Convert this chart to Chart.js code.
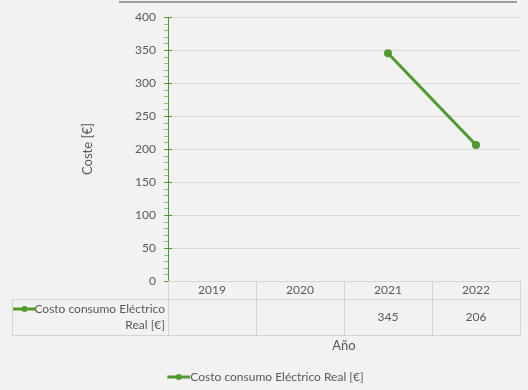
<!DOCTYPE html>
<html>
<head>
<meta charset="utf-8">
<script src="https://cdn.jsdelivr.net/npm/chart.js@4.4.1/dist/chart.umd.min.js"></script>
<style>
  html, body { margin: 0; padding: 0; background: #f2f2f2; }
  #wrap { width: 528px; height: 390px; position: relative; }
</style>
</head>
<body>
<div id="wrap"><canvas id="costChart"></canvas></div>
<script>
// datos
const years = ['2019', '2020', '2021', '2022'];
const costoReal = [null, null, 345, 206];
const seriesName = 'Costo consumo Eléctrico Real [€]';
const tableLabelLines = ['Costo consumo Eléctrico', 'Real [€]'];

const GREEN = '#4e9a2b';
const TEXT = '#595959';
const GRID = '#d9d9d9';
const FONT = 'Lato';
const FS = 12;

// muestra de la serie (línea con punto); margen transparente a la izquierda
function makeKey(margin) {
  const c = document.createElement('canvas');
  c.width = 23 + margin; c.height = 8;
  const g = c.getContext('2d');
  g.strokeStyle = GREEN; g.lineWidth = 3;
  g.beginPath(); g.moveTo(margin, 4); g.lineTo(margin + 23, 4); g.stroke();
  g.fillStyle = GREEN;
  g.beginPath(); g.arc(margin + 11.5, 4, 3, 0, Math.PI * 2); g.fill();
  return c;
}
const keyImg = makeKey(0);
const legendKeyImg = makeKey(17);

// ejes secundarios, tabla de datos y línea superior
const extras = {
  id: 'extras',
  afterDraw(chart) {
    const ctx = chart.ctx;
    const y = chart.scales.y;
    const x = chart.scales.x;
    const area = chart.chartArea;
    ctx.save();

    // línea superior
    ctx.strokeStyle = '#7f7f7f';
    ctx.lineWidth = 1.5;
    ctx.beginPath(); ctx.moveTo(119, 2); ctx.lineTo(517, 2); ctx.stroke();

    // marcas del eje Y
    for (let v = 0; v <= 400; v += 10) {
      const py = Math.round(y.getPixelForValue(v)) + 0.5;
      ctx.beginPath();
      if (v % 50 === 0) {
        ctx.strokeStyle = GREEN; ctx.lineWidth = 1;
        ctx.moveTo(area.left - 4, py); ctx.lineTo(area.left + 4, py);
      } else {
        ctx.strokeStyle = '#8fc26f'; ctx.lineWidth = 1;
        ctx.moveTo(area.left - 4, py); ctx.lineTo(area.left, py);
      }
      ctx.stroke();
    }

    // tabla de datos
    const colW = x.width / years.length;
    const top = area.bottom;
    const rowH1 = 18, rowH2 = 36;
    const labelLeft = 12;
    ctx.strokeStyle = '#d4d4d4';
    ctx.lineWidth = 1;
    ctx.beginPath();
    ctx.moveTo(area.left, top + 0.5); ctx.lineTo(area.right, top + 0.5);
    ctx.moveTo(labelLeft, top + rowH1 + 0.5); ctx.lineTo(area.right, top + rowH1 + 0.5);
    ctx.moveTo(labelLeft, top + rowH1 + rowH2 + 0.5); ctx.lineTo(area.right, top + rowH1 + rowH2 + 0.5);
    ctx.moveTo(labelLeft + 0.5, top + rowH1); ctx.lineTo(labelLeft + 0.5, top + rowH1 + rowH2);
    for (let i = 0; i <= years.length; i++) {
      const cx = Math.round(x.left + i * colW) + 0.5;
      ctx.moveTo(cx, top); ctx.lineTo(cx, top + rowH1 + rowH2);
    }
    ctx.stroke();

    ctx.fillStyle = TEXT;
    ctx.font = FS + 'px ' + FONT;
    ctx.textAlign = 'center';
    ctx.textBaseline = 'middle';
    years.forEach((yr, i) => {
      const cx = x.getPixelForValue(i);
      ctx.fillText(yr, cx, top + rowH1 / 2 + 0.5);
      if (costoReal[i] !== null) ctx.fillText(String(costoReal[i]), cx, top + rowH1 + rowH2 / 2);
    });
    ctx.textAlign = 'right';
    ctx.fillText(tableLabelLines[0], area.left - 3, top + rowH1 + 10);
    ctx.fillText(tableLabelLines[1], area.left - 3, top + rowH1 + 26);
    ctx.drawImage(keyImg, 13, top + rowH1 + 6);
    ctx.restore();
  }
};

new Chart(document.getElementById('costChart'), {
  type: 'line',
  data: {
    labels: years,
    datasets: [{
      label: seriesName,
      data: costoReal,
      borderColor: GREEN,
      backgroundColor: GREEN,
      borderWidth: 3,
      pointRadius: 4,
      pointHoverRadius: 4,
      pointBackgroundColor: GREEN,
      pointBorderWidth: 0,
      tension: 0,
      fill: false
    }]
  },
  options: {
    responsive: true,
    maintainAspectRatio: false,
    animation: false,
    layout: { padding: { top: 17, right: 8, bottom: -3, left: 0 } },
    plugins: {
      tooltip: { enabled: false },
      legend: {
        position: 'bottom',
        labels: {
          usePointStyle: true,
          pointStyle: legendKeyImg,
          pointStyleWidth: 28,
          boxHeight: 8,
          padding: 2,
          color: TEXT,
          font: { family: FONT, size: FS }
        }
      }
    },
    scales: {
      x: {
        offset: true,
        grid: { display: false },
        border: { display: false },
        ticks: { display: false },
        title: {
          display: true, text: 'Año', color: TEXT,
          font: { family: FONT, size: FS + 1 },
          padding: { top: 0, bottom: 15 }
        },
        afterFit(scale) { scale.height = 88; }
      },
      y: {
        min: 0, max: 400,
        ticks: { stepSize: 50, color: TEXT, padding: 0, font: { family: FONT, size: FS } },
        grid: { color: GRID, drawTicks: true, tickLength: 12, tickColor: 'rgba(0,0,0,0)' },
        border: { color: GREEN, width: 1 },
        title: {
          display: true, text: 'Coste [€]', color: TEXT,
          font: { family: FONT, size: FS + 1 },
          padding: { top: 80, bottom: 0 }
        },
        afterFit(scale) { scale.width = 168; }
      }
    }
  },
  plugins: [extras]
});
</script>
</body>
</html>
